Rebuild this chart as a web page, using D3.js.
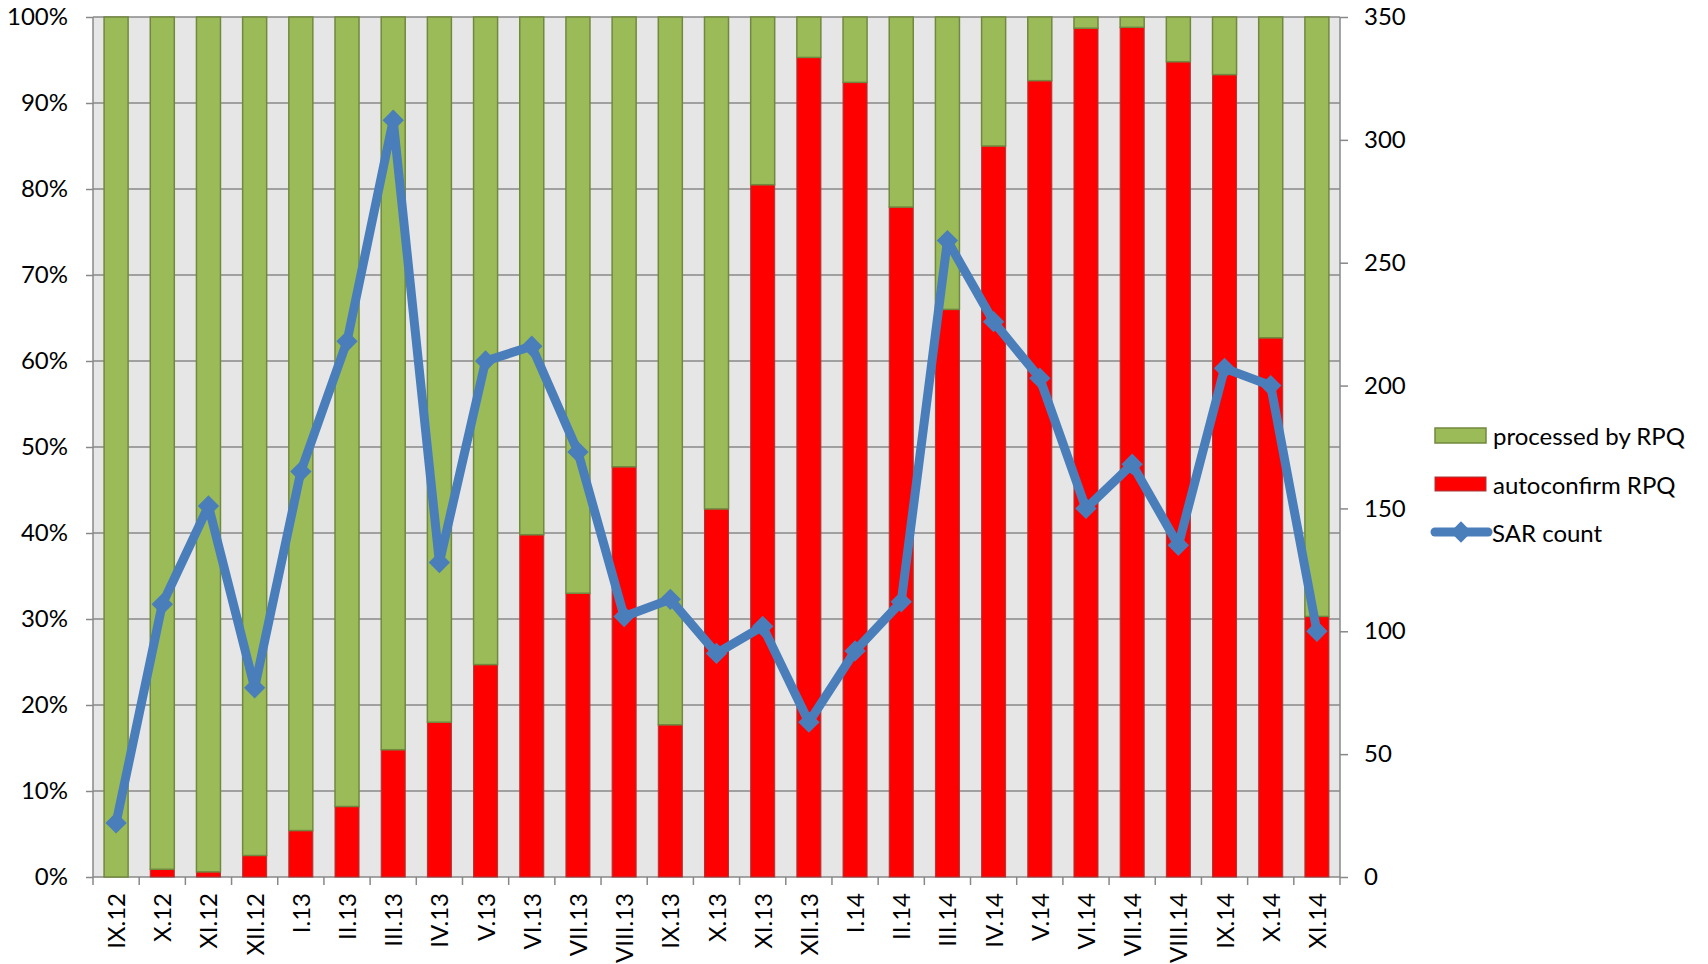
<html>
<head>
<meta charset="utf-8">
<script src="https://d3js.org/d3.v7.min.js"></script>
<style>
  body { margin: 0; background: white; }
  text { font-family: Lato, "Open Sans", sans-serif; fill: #000; }
  .axis path { display: none; }
  .axis line { stroke: #888; stroke-width: 1.5; }
</style>
</head>
<body>
<div id="chart"></div>
<script>
var months = ["IX.12","X.12","XI.12","XII.12","I.13","II.13","III.13","IV.13","V.13","VI.13","VII.13","VIII.13","IX.13","X.13","XI.13","XII.13","I.14","II.14","III.14","IV.14","V.14","VI.14","VII.14","VIII.14","IX.14","X.14","XI.14"];
// share of autoconfirmed RPQ, in percent
var autoconfirm = [0,0.9,0.6,2.5,5.4,8.2,14.8,18,24.7,39.8,33,47.7,17.7,42.8,80.5,95.3,92.4,77.9,66,85,92.6,98.7,98.8,94.8,93.3,62.7,30.3];
// remainder processed by RPQ
var processed = autoconfirm.map(function(d) { return 100 - d; });
var sarCount = [22,111,151,77,165,218,308,128,210,216,173,106,113,91,102,63,92,112,259,226,203,150,168,135,207,200,100];
var pctTicks = [0,10,20,30,40,50,60,70,80,90,100];
var countTicks = [0,50,100,150,200,250,300,350];

var W = 1708, H = 964;
var pLeft = 93, pRight = 1340, pTop = 17, pBottom = 877;
var fs = "24px";

var svg = d3.select("#chart").append("svg")
    .attr("width", W).attr("height", H);

var x = d3.scaleBand().domain(months).range([pLeft, pRight]).paddingInner(0.48).paddingOuter(0.24);
var y = d3.scaleLinear().domain([0, 100]).range([pBottom, pTop]);
var y2 = d3.scaleLinear().domain([0, 350]).range([pBottom, pTop]);

// plot background
svg.append("rect")
    .attr("x", pLeft).attr("y", pTop)
    .attr("width", pRight - pLeft).attr("height", pBottom - pTop)
    .style("fill", "#e6e6e6");

// horizontal grid
svg.append("g").selectAll("line").data(pctTicks).enter().append("line")
    .attr("x1", pLeft).attr("x2", pRight)
    .attr("y1", function(d) { return y(d); }).attr("y2", function(d) { return y(d); })
    .style("stroke", "#888").style("stroke-width", 1.5);

// border lines
svg.append("line").attr("x1", pRight).attr("x2", pRight).attr("y1", pTop).attr("y2", pBottom)
    .style("stroke", "#888").style("stroke-width", 1.5);
svg.append("line").attr("x1", pLeft).attr("x2", pLeft).attr("y1", pTop).attr("y2", pBottom)
    .style("stroke", "#888").style("stroke-width", 1.5);

// stacked bars
var bars = svg.append("g");
bars.selectAll(".red").data(months).enter().append("rect")
    .attr("x", function(d) { return x(d); })
    .attr("width", x.bandwidth())
    .attr("y", function(d, i) { return y(autoconfirm[i]); })
    .attr("height", function(d, i) { return y(0) - y(autoconfirm[i]); })
    .style("fill", "#ff0000").style("stroke", "#a33a3a").style("stroke-width", 1);
bars.selectAll(".green").data(months).enter().append("rect")
    .attr("x", function(d) { return x(d); })
    .attr("width", x.bandwidth())
    .attr("y", function(d, i) { return y(autoconfirm[i] + processed[i]); })
    .attr("height", function(d, i) { return y(autoconfirm[i]) - y(autoconfirm[i] + processed[i]); })
    .style("fill", "#9bbb59").style("stroke", "#71893f").style("stroke-width", 1.5);

// left axis
svg.append("g").attr("class", "axis")
    .attr("transform", "translate(" + pLeft + ",0)")
    .call(d3.axisLeft(y).tickValues(pctTicks).tickSize(7).tickPadding(18)
        .tickFormat(function(d) { return d + "%"; }))
    .selectAll("text").style("font-size", fs);

// right axis
svg.append("g").attr("class", "axis")
    .attr("transform", "translate(" + pRight + ",0)")
    .call(d3.axisRight(y2).tickValues(countTicks).tickSize(8).tickPadding(16))
    .selectAll("text").style("font-size", fs);

// bottom axis: ticks at band boundaries
var bounds = d3.range(months.length + 1).map(function(i) { return pLeft + i * (pRight - pLeft) / months.length; });
svg.append("g").selectAll("line").data(bounds).enter().append("line")
    .attr("x1", function(d) { return d; }).attr("x2", function(d) { return d; })
    .attr("y1", pBottom).attr("y2", pBottom + 8)
    .style("stroke", "#888").style("stroke-width", 1.5);
svg.append("g").selectAll("text").data(months).enter().append("text")
    .attr("transform", function(d) {
        return "translate(" + (x(d) + x.bandwidth() / 2 + 9) + "," + (pBottom + 16) + ") rotate(-90)";
    })
    .style("text-anchor", "end")
    .style("font-size", fs)
    .text(function(d) { return d; });

// SAR count line
var line = d3.line()
    .x(function(d, i) { return x(months[i]) + x.bandwidth() / 2; })
    .y(function(d) { return y2(d); });
svg.append("path").datum(sarCount)
    .attr("d", line)
    .style("fill", "none").style("stroke", "#4a7ebb").style("stroke-width", 9)
    .style("stroke-linejoin", "round");
var diamond = d3.symbol().type(d3.symbolDiamond2).size(290);
svg.append("g").selectAll("path").data(sarCount).enter().append("path")
    .attr("d", diamond)
    .attr("transform", function(d, i) {
        return "translate(" + (x(months[i]) + x.bandwidth() / 2) + "," + y2(d) + ")";
    })
    .style("fill", "#4a7ebb");

// legend
var lg = svg.append("g");
lg.append("rect").attr("x", 1435).attr("y", 428).attr("width", 51).attr("height", 15)
    .style("fill", "#9bbb59").style("stroke", "#71893f").style("stroke-width", 1.5);
lg.append("text").attr("x", 1493).attr("y", 445).style("font-size", fs).text("processed by RPQ");
lg.append("rect").attr("x", 1435).attr("y", 477).attr("width", 51).attr("height", 14)
    .style("fill", "#ff0000").style("stroke", "#a33a3a").style("stroke-width", 1);
lg.append("text").attr("x", 1493).attr("y", 494).style("font-size", fs).text("autoconfirm RPQ");
lg.append("line").attr("x1", 1435).attr("x2", 1488).attr("y1", 532).attr("y2", 532)
    .style("stroke", "#4a7ebb").style("stroke-width", 9).style("stroke-linecap", "round");
lg.append("path").attr("d", diamond).attr("transform", "translate(1461,532)").style("fill", "#4a7ebb");
lg.append("text").attr("x", 1492).attr("y", 542).style("font-size", fs).text("SAR count");
</script>
</body>
</html>
